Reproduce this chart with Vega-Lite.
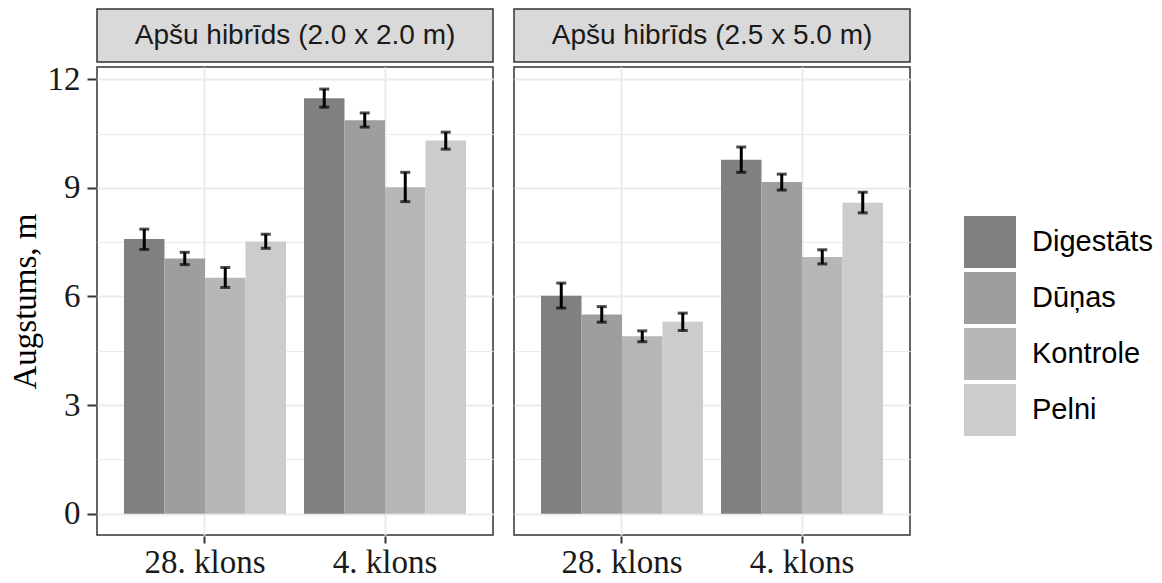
{
  "$schema": "https://vega.github.io/schema/vega-lite/v6.json",
  "background": "white",
  "padding": {"left": 9, "top": 8, "right": 5, "bottom": 0},
  "spacing": 0,
  "config": {
    "header": {"labels": false, "title": null, "labelPadding": 0, "titlePadding": 0}
  },
  "datasets": {
    "strips": [
      {"panel": "Apšu hibrīds (2.0 x 2.0 m)"},
      {"panel": "Apšu hibrīds (2.5 x 5.0 m)"}
    ],
    "bars": [
      {"panel": "Apšu hibrīds (2.0 x 2.0 m)", "klons": "28. klons", "treatment": "Digestāts", "value": 7.59, "lo": 7.30, "hi": 7.86},
      {"panel": "Apšu hibrīds (2.0 x 2.0 m)", "klons": "28. klons", "treatment": "Dūņas", "value": 7.05, "lo": 6.88, "hi": 7.22},
      {"panel": "Apšu hibrīds (2.0 x 2.0 m)", "klons": "28. klons", "treatment": "Kontrole", "value": 6.52, "lo": 6.25, "hi": 6.80},
      {"panel": "Apšu hibrīds (2.0 x 2.0 m)", "klons": "28. klons", "treatment": "Pelni", "value": 7.52, "lo": 7.33, "hi": 7.72},
      {"panel": "Apšu hibrīds (2.0 x 2.0 m)", "klons": "4. klons", "treatment": "Digestāts", "value": 11.48, "lo": 11.23, "hi": 11.73},
      {"panel": "Apšu hibrīds (2.0 x 2.0 m)", "klons": "4. klons", "treatment": "Dūņas", "value": 10.87, "lo": 10.68, "hi": 11.07},
      {"panel": "Apšu hibrīds (2.0 x 2.0 m)", "klons": "4. klons", "treatment": "Kontrole", "value": 9.02, "lo": 8.62, "hi": 9.43},
      {"panel": "Apšu hibrīds (2.0 x 2.0 m)", "klons": "4. klons", "treatment": "Pelni", "value": 10.31, "lo": 10.07, "hi": 10.54},
      {"panel": "Apšu hibrīds (2.5 x 5.0 m)", "klons": "28. klons", "treatment": "Digestāts", "value": 6.02, "lo": 5.68, "hi": 6.37},
      {"panel": "Apšu hibrīds (2.5 x 5.0 m)", "klons": "28. klons", "treatment": "Dūņas", "value": 5.50, "lo": 5.29, "hi": 5.72},
      {"panel": "Apšu hibrīds (2.5 x 5.0 m)", "klons": "28. klons", "treatment": "Kontrole", "value": 4.90, "lo": 4.75, "hi": 5.05},
      {"panel": "Apšu hibrīds (2.5 x 5.0 m)", "klons": "28. klons", "treatment": "Pelni", "value": 5.30, "lo": 5.06, "hi": 5.54},
      {"panel": "Apšu hibrīds (2.5 x 5.0 m)", "klons": "4. klons", "treatment": "Digestāts", "value": 9.78, "lo": 9.43, "hi": 10.13},
      {"panel": "Apšu hibrīds (2.5 x 5.0 m)", "klons": "4. klons", "treatment": "Dūņas", "value": 9.16, "lo": 8.94, "hi": 9.38},
      {"panel": "Apšu hibrīds (2.5 x 5.0 m)", "klons": "4. klons", "treatment": "Kontrole", "value": 7.09, "lo": 6.90, "hi": 7.29},
      {"panel": "Apšu hibrīds (2.5 x 5.0 m)", "klons": "4. klons", "treatment": "Pelni", "value": 8.59, "lo": 8.31, "hi": 8.88}
    ]
  },
  "vconcat": [
    {
      "data": {"name": "strips"},
      "facet": {"column": {"field": "panel", "type": "nominal", "header": {"labels": false, "title": null}}},
      "spacing": 19,
      "spec": {
        "width": 396,
        "height": 53,
        "view": {"fill": "#d9d9d9", "stroke": "#333333", "strokeWidth": 1.5},
        "mark": {"type": "text", "font": "Liberation Sans", "fontSize": 28, "color": "#1a1a1a", "baseline": "middle", "align": "center"},
        "encoding": {"text": {"field": "panel", "type": "nominal"}}
      }
    },
    {
      "data": {"name": "bars"},
      "facet": {"column": {"field": "panel", "type": "nominal", "header": {"labels": false, "title": null}}},
      "spacing": 19,
      "spec": {
        "width": 396,
        "height": 468,
        "view": {"stroke": "#333333", "strokeWidth": 1.5},
        "encoding": {
          "x": {
            "field": "klons", "type": "nominal", "sort": ["28. klons", "4. klons"], "title": null,
            "scale": {"paddingInner": 0.1, "paddingOuter": 0.15},
            "axis": {"bandPosition": 0.5, "grid": true, "gridColor": "#ebebeb", "gridWidth": 2, "tickSize": 7, "tickColor": "#333333", "tickWidth": 2, "labelFont": "Liberation Serif", "labelFontSize": 33, "labelColor": "#1a1a1a", "labelAngle": 0, "domain": false, "labelPadding": 3}
          },
          "xOffset": {"field": "treatment", "type": "nominal", "sort": ["Digestāts", "Dūņas", "Kontrole", "Pelni"], "scale": {"paddingInner": 0, "paddingOuter": 0}}
        },
        "layer": [
          {
            "mark": {"type": "bar"},
            "encoding": {
              "y": {
                "field": "value", "type": "quantitative", "title": "Augstums, m",
                "scale": {"domain": [-0.59, 12.34], "nice": false, "zero": false},
                "axis": {
                  "values": [0, 1.5, 3, 4.5, 6, 7.5, 9, 10.5, 12],
                  "labelExpr": "datum.value % 3 === 0 ? format(datum.value, 'd') : ''",
                  "grid": true, "gridColor": "#ebebeb",
                  "gridWidth": {"condition": {"test": "datum.value % 3 !== 0", "value": 1}, "value": 2},
                  "tickOpacity": {"condition": {"test": "datum.value % 3 !== 0", "value": 0}, "value": 1},
                  "tickSize": 9, "tickColor": "#333333", "tickWidth": 2, "domain": false,
                  "labelFont": "Liberation Serif", "labelFontSize": 33, "labelColor": "#1a1a1a", "labelPadding": 7,
                  "titleFont": "Liberation Serif", "titleFontSize": 33, "titleFontWeight": "normal", "titleColor": "#000000", "titlePadding": 5
                }
              },
              "color": {
                "field": "treatment", "type": "nominal",
                "scale": {"domain": ["Digestāts", "Dūņas", "Kontrole", "Pelni"], "range": ["#808080", "#9e9e9e", "#b7b7b7", "#cccccc"]},
                "legend": {"title": null, "orient": "none", "legendX": 867, "legendY": 207, "symbolType": "square", "symbolSize": 2704, "symbolStrokeWidth": 0, "symbolOpacity": 1, "labelFont": "Liberation Sans", "labelFontSize": 29, "labelColor": "#000000", "labelOffset": 16, "rowPadding": 4, "padding": 0}
              }
            }
          },
          {
            "mark": {"type": "rule", "color": "black", "strokeWidth": 3},
            "encoding": {
              "y": {"field": "lo", "type": "quantitative", "title": "Augstums, m"},
              "y2": {"field": "hi"}
            }
          },
          {
            "mark": {"type": "tick", "color": "black", "thickness": 3, "size": 10},
            "encoding": {"y": {"field": "lo", "type": "quantitative", "title": "Augstums, m"}}
          },
          {
            "mark": {"type": "tick", "color": "black", "thickness": 3, "size": 10},
            "encoding": {"y": {"field": "hi", "type": "quantitative", "title": "Augstums, m"}}
          }
        ]
      }
    }
  ]
}
